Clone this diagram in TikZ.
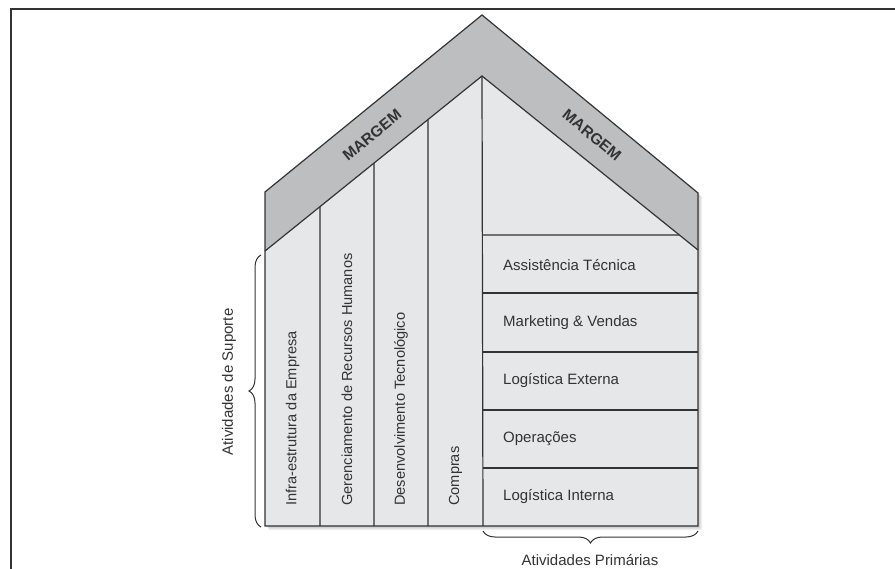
\documentclass[tikz,border=0pt]{standalone}
\usepackage{fontspec}
\setmainfont{Liberation Sans}
\usetikzlibrary{calc,decorations.pathreplacing}
\definecolor{roof}{HTML}{BDBEC0}
\definecolor{wall}{HTML}{E6E7E8}
\definecolor{ink}{HTML}{333333}
\begin{document}
\begin{tikzpicture}[x=1pt,y=-1pt,
  edge/.style={draw=ink,line width=1.2pt,line join=miter},
  lbl/.style={text=ink,font=\fontsize{15}{17}\selectfont,inner sep=0pt},
  collbl/.style={lbl,font=\fontsize{14.6}{17}\selectfont,rotate=90,anchor=west},
  rowlbl/.style={lbl,anchor=west},
  margem/.style={text=ink,font=\fontsize{15.5}{17}\selectfont\bfseries,inner sep=0pt},
  bracestyle/.style={draw=ink,line width=1pt,decorate,decoration={brace,amplitude=12pt}}]
\useasboundingbox (0,0) rectangle (895,569);

% outer frame (top and left rule)
\draw[ink,line width=1.6pt] (895,9) -- (11,9) -- (11,569);

% key points of the house
\coordinate (BL) at (265,526);
\coordinate (BR) at (698,526);
\coordinate (Lo) at (265,192);
\coordinate (Ao) at (482,15);
\coordinate (Ro) at (698,193);
\coordinate (Li) at (265,251);
\coordinate (Ai) at (482,76);
\coordinate (Ri) at (698,250);

% soft drop shadow
\foreach \d in {1,2,3,4}
  \fill[black,opacity=0.06] ([shift={(\d,\d)}]BL) -- ([shift={(\d,\d)}]Lo) -- ([shift={(\d,\d)}]Ao)
     -- ([shift={(\d,\d)}]Ro) -- ([shift={(\d,\d)}]BR) -- cycle;

% walls and roof band
\fill[wall] (BL) -- (Lo) -- (Ao) -- (Ro) -- (BR) -- cycle;
\fill[roof] (Lo) -- (Ao) -- (Ro) -- (Ri) -- (Ai) -- (Li) -- cycle;

% support activity columns
\foreach \x in {320,374,428}
  \draw[edge] (\x,526) -- ($(Li)!{(\x-265)/217}!(Ai)$);
\draw[edge] (483,526) -- (Ai);

% primary activity rows
\draw[edge] (483,235) -- ($(Ai)!{(235-76)/174}!(Ri)$);
\foreach \y in {293,352,410,468}
  \draw[edge] (483,\y) -- (698,\y);

% outlines
\draw[edge] (Li) -- (Ai) -- (Ri);
\draw[edge] (BL) -- (Lo) -- (Ao) -- (Ro) -- (BR) -- cycle;

% roof labels
\node[margem,rotate=39.2] (m1) at (372,135) {MARGEM};
\node[margem,rotate=-39.4] (m2) at (592,135) {MARGEM};

% column labels
\node[collbl] (c1) at (292.5,506) {Infra-estrutura da Empresa};
\node[collbl] (c2) at (347,506) {Gerenciamento de Recursos Humanos};
\node[collbl] (c3) at (401,506) {Desenvolvimento Tecnológico};
\node[collbl] (c4) at (455.5,506) {Compras};

% row labels
\node[rowlbl] (r1) at (503,265) {Assistência Técnica};
\node[rowlbl] (r2) at (503,323) {Marketing \& Vendas};
\node[rowlbl] (r3) at (503,381) {Logística Externa};
\node[rowlbl] (r4) at (503,439) {Operações};
\node[rowlbl] (r5) at (503,497) {Logística Interna};

% braces and group labels
\coordinate (sb) at (261,527);
\coordinate (st) at (261,255);
\draw[bracestyle] (sb) -- (st);
\node[lbl,rotate=90] (sup) at (229,382) {Atividades de Suporte};
\coordinate (pr) at (698,531);
\coordinate (pl) at (483,531);
\draw[bracestyle] (pr) -- (pl);
\node[lbl] (pri) at (590,560) {Atividades Primárias};
\end{tikzpicture}
\end{document}
